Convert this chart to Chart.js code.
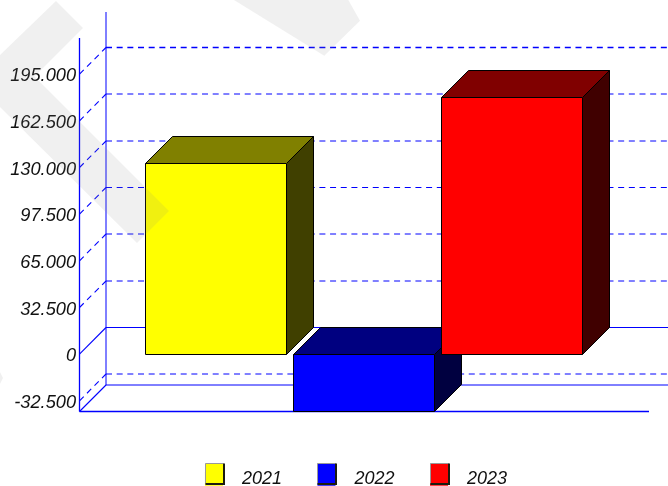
<!DOCTYPE html>
<html>
<head>
<meta charset="utf-8">
<style>html,body{margin:0;padding:0;background:#fff}canvas{display:block}</style>
<script src="https://cdn.jsdelivr.net/npm/chart.js@4"></script>
</head>
<body>
<canvas id="c" width="668" height="486"></canvas>
<script>
const categories = [''];
const seriesNames = ['2021', '2022', '2023'];
const series2021 = [133000];
const series2022 = [-39925];
const series2023 = [179000];
const yTickValues = [-32500, 0, 32500, 65000, 97500, 130000, 162500, 195000];
const frontColors = ['#ffff00', '#0000ff', '#ff0000'];
const topColors = ['#808000', '#000080', '#800000'];
const sideColors = ['#404000', '#000040', '#400000'];
const watermarkShapes = [
  [[0,55],[56,1],[83,28],[34.5,76.5],[169,211],[137,243],[0,107]],
  [[234,0],[324.3,55.7],[360,20.7],[348.3,0]],
  [[0,372],[3,378],[0,384]]
];
const DEPTH = 26.67, BOX_DEPTH = 27;
const LEGEND_SHIFT = 31.5, LEGEND_TEXT_CENTER = 480.5, LEGEND_PAD = 35.5;
const snap = v => Math.round(v * 2) / 2;
const crisp = v => Math.floor(v) + 0.5;
const fmt = v => String(v).replace(/\B(?=(\d{3})+(?!\d))/g, '.');

function line(ctx, x1, y1, x2, y2, dash, width) {
  ctx.save();
  ctx.strokeStyle = '#0000ff';
  ctx.lineWidth = width || 1;
  ctx.setLineDash(dash ? [6, 4.67] : []);
  ctx.beginPath(); ctx.moveTo(x1, y1); ctx.lineTo(x2, y2); ctx.stroke();
  ctx.restore();
}
function poly(ctx, pts, fill) {
  ctx.beginPath();
  pts.forEach((p, i) => i ? ctx.lineTo(p[0], p[1]) : ctx.moveTo(p[0], p[1]));
  ctx.closePath();
  if (fill) { ctx.fillStyle = fill; ctx.fill(); }
  ctx.strokeStyle = '#000'; ctx.lineWidth = 1; ctx.stroke();
}

const box3d = {
  id: 'box3d',
  afterLayout(chart) {
    const lg = chart.legend;
    lg.left += LEGEND_SHIFT; lg.right += LEGEND_SHIFT;
    const newTop = LEGEND_TEXT_CENTER - 10.8 - LEGEND_PAD;
    const dy = newTop - lg.top;
    lg.top = newTop; lg.bottom += dy;
    lg.legendHitBoxes.forEach(h => { h.left += LEGEND_SHIFT; h.top += dy; });
  },
  beforeDatasetsDraw(chart) {
    const {ctx, chartArea: a, scales: {y}} = chart;
    const fl = snap(a.left), bl = snap(a.left + DEPTH);
    const fb = a.bottom, bb = snap(a.bottom - DEPTH);
    yTickValues.forEach(v => {
      const fy = y.getPixelForValue(v), by = snap(fy - DEPTH);
      line(ctx, fl, fy, bl, by, v !== 0, 1.1);
      line(ctx, bl, by, chart.width, by, v !== 0, v === 195000 ? 1.3 : 1);
    });
    line(ctx, fl, a.top, fl, fb, false, 1.3);
    line(ctx, bl, 12, bl, bb);
    line(ctx, fl, fb, a.right, fb, false, 1.3);
    line(ctx, bl, bb, chart.width, bb);
    line(ctx, fl, fb, bl, bb, false, 1.1);
  },
  beforeDatasetDraw() { return false; },
  afterDatasetsDraw(chart) {
    const {ctx, chartArea: a} = chart;
    chart.data.datasets.forEach((d, i) => {
      const bar = chart.getDatasetMeta(i).data[0];
      const l = crisp(bar.x - bar.width / 2), r = crisp(bar.x + bar.width / 2);
      const t = crisp(Math.min(bar.y, bar.base));
      const b = crisp(Math.min(Math.max(bar.y, bar.base), a.bottom));
      const D = BOX_DEPTH;
      ctx.save();
      poly(ctx, [[l, t], [l + D, t - D], [r + D, t - D], [r, t]], topColors[i]);
      poly(ctx, [[r, t], [r + D, t - D], [r + D, b - D], [r, b]], sideColors[i]);
      bar.draw(ctx, a);
      poly(ctx, [[l, t], [r, t], [r, b], [l, b]]);
      ctx.restore();
    });
  },
  afterDraw(chart) {
    const {ctx} = chart;
    ctx.save();
    chart.legend.legendHitBoxes.forEach((h, i) => {
      const x = Math.round(h.left) + 0.5, top = 463.5, w = 18, hh = 20;
      ctx.fillStyle = frontColors[i];
      ctx.fillRect(x, top, w, hh);
      ctx.lineWidth = 1;
      ctx.strokeStyle = '#999';
      ctx.beginPath(); ctx.moveTo(x, top + hh); ctx.lineTo(x, top); ctx.lineTo(x + w, top); ctx.stroke();
      ctx.lineWidth = 2;
      ctx.strokeStyle = '#1c1c10';
      ctx.beginPath(); ctx.moveTo(x + w + 0.5, top); ctx.lineTo(x + w + 0.5, top + hh + 0.5); ctx.lineTo(x, top + hh + 0.5); ctx.stroke();
    });
    ctx.fillStyle = 'rgba(128,128,128,0.12)';
    watermarkShapes.forEach(s => {
      ctx.beginPath();
      s.forEach((p, i) => i ? ctx.lineTo(p[0], p[1]) : ctx.moveTo(p[0], p[1]));
      ctx.closePath(); ctx.fill();
    });
    ctx.restore();
  }
};

const mk = (i, data) => ({
  label: seriesNames[i], data,
  backgroundColor: frontColors[i], borderWidth: 0,
  inflateAmount: 0,
  categoryPercentage: 0.7796, barPercentage: 0.9527
});

new Chart(document.getElementById('c'), {
  type: 'bar',
  data: {
    labels: categories,
    datasets: [mk(0, series2021), mk(1, series2022), mk(2, series2023)]
  },
  plugins: [box3d],
  options: {
    responsive: false,
    animation: false,
    layout: {padding: {left: 0, right: 19, top: 38, bottom: 0}},
    plugins: {
      tooltip: {enabled: false},
      legend: {
        position: 'bottom',
        labels: {
          boxWidth: 18, boxHeight: 14, padding: LEGEND_PAD,
          color: '#111',
          font: {family: 'Liberation Sans', size: 18, style: 'italic'},
          generateLabels(chart) {
            return chart.data.datasets.map((d, i) => ({
              text: '  ' + d.label, fillStyle: d.backgroundColor, strokeStyle: 'rgba(0,0,0,0)',
              lineWidth: 0, datasetIndex: i, fontColor: '#111'
            }));
          }
        }
      }
    },
    scales: {
      x: {
        grid: {display: false}, border: {display: false}, ticks: {display: false},
        afterFit(s) { s.height = s.chart.height - 411.5 - s.chart.legend.height; }
      },
      y: {
        min: -39925, max: 220175,
        grid: {display: false, drawTicks: false}, border: {display: false},
        afterBuildTicks(s) { s.ticks = yTickValues.map(v => ({value: v})); },
        afterFit(s) { s.width = 79.5; },
        ticks: {
          autoSkip: false, padding: 3.5, color: '#111',
          font: {family: 'Liberation Sans', size: 18.2, style: 'italic', lineHeight: 0.22},
          callback: v => ['', fmt(v)]
        }
      }
    }
  }
});
</script>
</body>
</html>
